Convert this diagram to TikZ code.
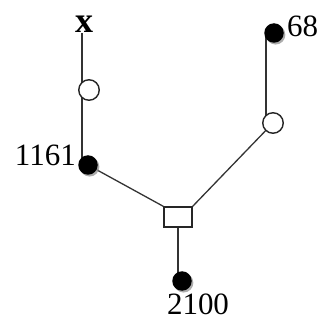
\documentclass[tikz,border=0pt]{standalone}
\usepackage{fontspec}
\setmainfont{Liberation Serif}
\usetikzlibrary{backgrounds,shadows}
\begin{document}
\begin{tikzpicture}[x=1pt,y=-1pt,
  lbl/.style={inner sep=0pt,font=\fontsize{31}{31}\selectfont},
  opendot/.style={circle,draw=black!85,line width=1.4pt,fill=white,minimum size=20.5pt,inner sep=0pt},
  fulldot/.style={circle,fill=black,minimum size=19.5pt,inner sep=0pt,
    drop shadow={shadow xshift=1.6pt,shadow yshift=-1.8pt,fill=black!40,opacity=0.8}},
  sqbox/.style={rectangle,draw=black!85,line width=1.3pt,fill=white,minimum width=28pt,minimum height=20pt,inner sep=0pt},
  edge/.style={draw=black!80,line width=1.3pt}]
\useasboundingbox (0,0) rectangle (322,321);
\node[lbl,anchor=base,font=\fontsize{36}{36}\selectfont\bfseries] (xlab) at (84,33) {x};
\node[opendot] (c1) at (89,90) {};
\node[fulldot] (d1161) at (88,165) {};
\node[sqbox] (sq) at (178,217) {};
\node[fulldot] (d2100) at (182,281) {};
\node[opendot] (c2) at (273,123) {};
\node[fulldot] (d68) at (274,33) {};
\node[lbl,anchor=base east] (l1161) at (76,166) {1161};
\node[lbl,anchor=base] (l2100) at (198,315) {2100};
\node[lbl,anchor=base west] (l68) at (287,37) {68};
\begin{scope}[on background layer]
\draw[edge] ([xshift=-2pt]xlab.south) -- ([xshift=-2pt]xlab.south |- d1161.center);
\draw[edge] ([xshift=-7pt]c2.center |- d68.center) -- ([xshift=-7pt]c2.center);
\draw[edge] (c2.center) -- (sq.north east);
\draw[edge] (d1161.center) -- (sq.north west);
\draw[edge] (sq.south) -- (sq.south |- d2100.center);
\end{scope}
\end{tikzpicture}
\end{document}
